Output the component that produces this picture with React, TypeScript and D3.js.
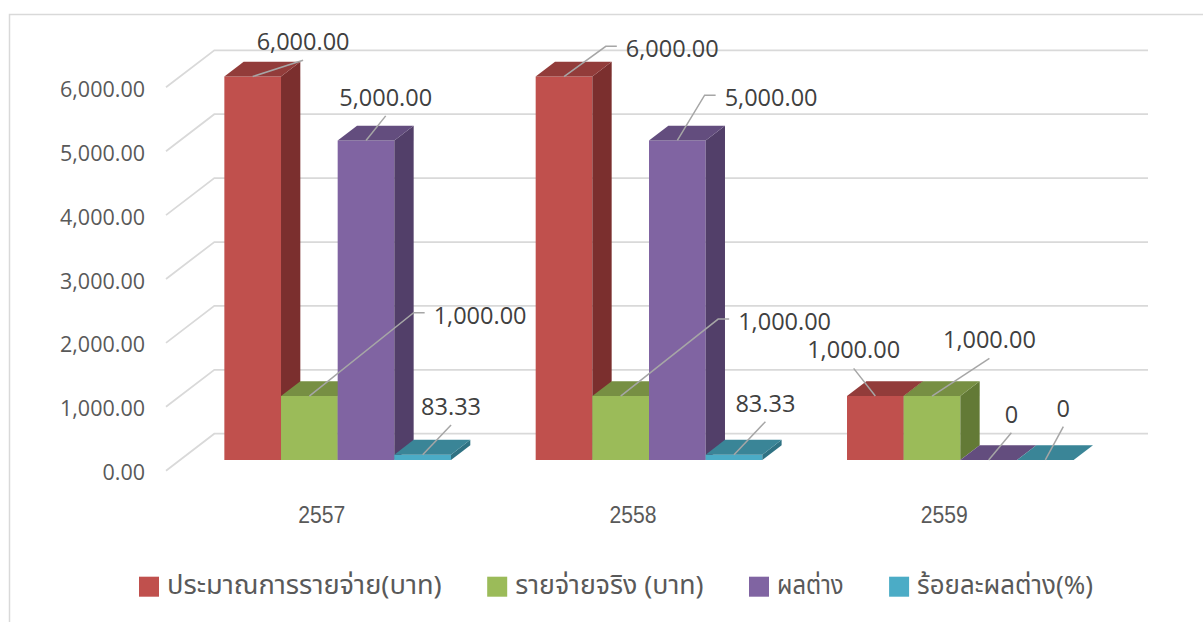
import React from 'react';
import * as d3 from 'd3';

// ---------- data ----------
const categories = ['2557', '2558', '2559'];
const seriesNames = ['ประมาณการรายจ่าย(บาท)', 'รายจ่ายจริง (บาท)', 'ผลต่าง', 'ร้อยละผลต่าง(%)'];
const budget = [6000, 6000, 1000];
const actual = [1000, 1000, 1000];
const difference = [5000, 5000, 0];
const differencePct = [83.33, 83.33, 0];
const yTicks = [0, 1000, 2000, 3000, 4000, 5000, 6000];

const seriesValues = [budget, actual, difference, differencePct];

// ---------- styling / layout ----------
const colors = [
  { front: '#C0504D', top: '#923C3A', side: '#7B2F2E' },
  { front: '#9BBB59', top: '#778F43', side: '#637A36' },
  { front: '#8064A2', top: '#634D7E', side: '#523F69' },
  { front: '#4BACC6', top: '#3A8597', side: '#2F7283' },
];

// leader-line end offsets relative to the bar top [dx, dy, elbow]
const leaderLayout = [
  [[50.4, -16.3, 0], [41.8, -30.3, 1], [-21.7, -27.7, 0]],
  [[104.3, -83.3, 1], [97.5, -77, 1], [57.4, -37.7, 0]],
  [[19.7, -24.6, 0], [27.3, -45.3, 1], [22.7, -27.3, 0]],
  [[28.4, -29.7, 0], [31.4, -33, 0], [18, -33.3, 0]],
];

const legendTextWidths = [274.7, 188.3, 66.6, 176];

const DX = 48.3; // wall depth projection
const DY = 37;
const Z_FRONT = 0.29;
const Z_BACK = 0.69;
const WALL_LEFT = 166;
const WALL_RIGHT_BACK = 1148;

export default function App() {
  const W = 1203;
  const H = 622;
  const y = d3.scaleLinear().domain([0, 6000]).range([470.7, 87.3]);
  const xBand = d3.scaleBand<string>().domain(categories).range([168, 1102]).padding(0);
  const groupW = xBand.bandwidth() * 0.728;
  const inner = d3.scaleBand<number>().domain(d3.range(seriesNames.length)).range([0, groupW]).padding(0);
  const fmt = (v: number) => (v === 0 ? '0' : d3.format(',.2f')(v));

  const P = (x: number, v: number, z: number): [number, number] => [x + z * DX, y(v) - z * DY];
  const poly = (pts: [number, number][]) => 'M' + pts.map((p) => p.join(',')).join('L') + 'Z';

  const font = "'Open Sans', 'Noto Sans', 'Liberation Sans', sans-serif";
  const thaiFont = "'Noto Sans Thai', 'Noto Sans Thai UI', Tahoma, Loma, Garuda, 'Noto Sans', sans-serif";

  const bars: React.ReactNode[] = [];
  const labels: React.ReactNode[] = [];
  categories.forEach((c, ci) => {
    const gx = (xBand(c) as number) + (xBand.bandwidth() - groupW) / 2;
    seriesNames.forEach((s, si) => {
      const v = seriesValues[si][ci];
      const x0 = gx + (inner(si) as number);
      const w = inner.bandwidth();
      const col = colors[si];
      const front = poly([P(x0, 0, Z_FRONT), P(x0 + w, 0, Z_FRONT), P(x0 + w, v, Z_FRONT), P(x0, v, Z_FRONT)]);
      const side = poly([P(x0 + w, 0, Z_FRONT), P(x0 + w, v, Z_FRONT), P(x0 + w, v, Z_BACK), P(x0 + w, 0, Z_BACK)]);
      const top = poly([P(x0, v, Z_FRONT), P(x0 + w, v, Z_FRONT), P(x0 + w, v, Z_BACK), P(x0, v, Z_BACK)]);
      bars.push(
        <g key={`b-${ci}-${si}`}>
          <path d={front} fill={col.front} />
          <path d={side} fill={col.side} />
          <path d={top} fill={col.top} />
        </g>
      );
      const [sx, sy] = P(x0 + w / 2, v, Z_FRONT);
      const [ldx, ldy, elbow] = leaderLayout[si][ci];
      const ex = sx + ldx;
      const ey = sy + ldy;
      if (elbow) {
        labels.push(
          <g key={`l-${ci}-${si}`}>
            <polyline points={`${sx},${sy} ${ex},${ey} ${ex + 11},${ey}`} fill="none" stroke="#A6A6A6" strokeWidth={1.5} />
            <text x={ex + 20} y={ey + 2} dominantBaseline="central" fontSize={23.5} fill="#404040" fontFamily={font}>
              {fmt(v)}
            </text>
          </g>
        );
      } else {
        labels.push(
          <g key={`l-${ci}-${si}`}>
            <line x1={sx} y1={sy} x2={ex} y2={ey} stroke="#A6A6A6" strokeWidth={1.5} />
            <text x={ex} y={ey - 19} textAnchor="middle" dominantBaseline="central" fontSize={23.5} fill="#404040" fontFamily={font}>
              {fmt(v)}
            </text>
          </g>
        );
      }
    });
  });

  // legend layout
  let lx = 139;
  const legendItems = seriesNames.map((s, i) => {
    const sqX = lx;
    const tx = sqX + 28;
    lx = tx + legendTextWidths[i] + 45.5;
    return (
      <g key={`lg-${i}`}>
        <rect x={sqX} y={576.7} width={20} height={20} fill={colors[i].front} />
        <text x={tx} y={594} fontSize={26} fill="#595959" fontFamily={thaiFont}
          textLength={legendTextWidths[i]} lengthAdjust="spacingAndGlyphs">{s}</text>
      </g>
    );
  });

  return (
    <svg width={W} height={H} style={{ position: 'absolute', left: 0, top: 0, background: '#fff' }}>
      <rect x={9.5} y={14.5} width={1400} height={800} fill="#fff" stroke="#D9D9D9" strokeWidth={1.5} />
      {yTicks.map((t) => {
        const a = P(WALL_LEFT, t, 0);
        const b = P(WALL_LEFT, t, 1);
        return (
          <path key={`g-${t}`} d={`M${a[0]},${a[1]}L${b[0]},${b[1]}L${WALL_RIGHT_BACK},${b[1]}`}
            fill="none" stroke="#D9D9D9" strokeWidth={1.75} />
        );
      })}
      {yTicks.map((t) => (
        <text key={`yt-${t}`} x={145} y={y(t) + 1} textAnchor="end" dominantBaseline="central"
          fontSize={21.5} fill="#595959" fontFamily={font}>
          {d3.format(',.2f')(t)}
        </text>
      ))}
      {bars}
      {labels}
      {categories.map((c) => (
        <text key={`x-${c}`} x={(xBand(c) as number) + xBand.bandwidth() / 2 - 2} y={514}
          textAnchor="middle" dominantBaseline="central" fontSize={24} fill="#595959"
          fontFamily="'Liberation Sans', Arial, sans-serif" textLength={47} lengthAdjust="spacingAndGlyphs">
          {c}
        </text>
      ))}
      {legendItems}
    </svg>
  );
}
